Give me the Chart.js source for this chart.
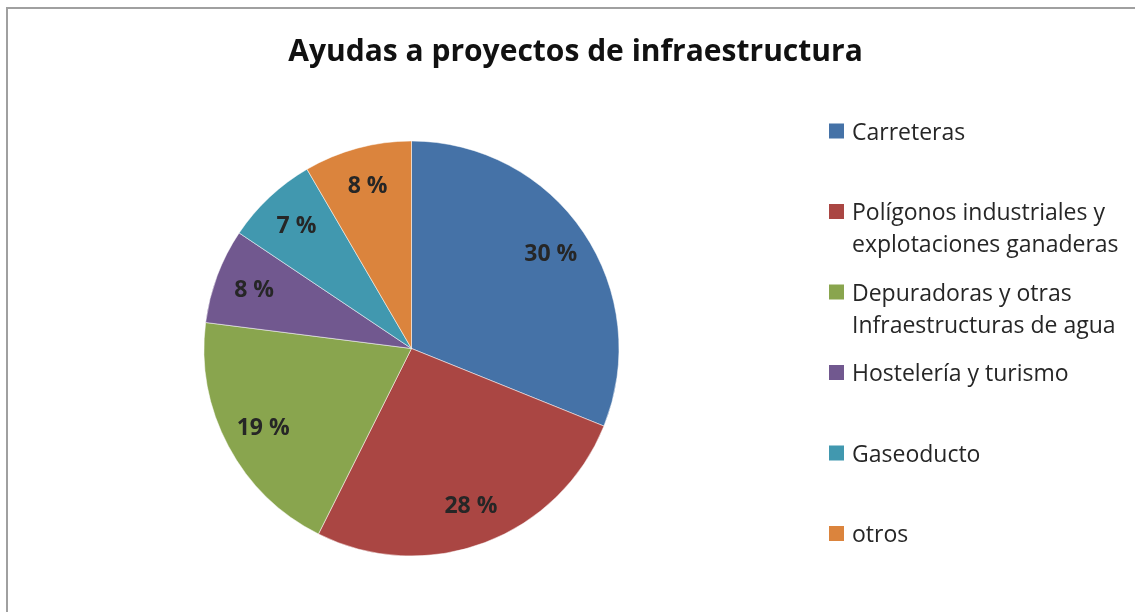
<!DOCTYPE html>
<html>
<head>
<meta charset="utf-8">
<script src="https://cdn.jsdelivr.net/npm/chart.js@4.4.1/dist/chart.umd.min.js"></script>
<style>
  html, body { margin: 0; padding: 0; background: #fff; }
  #wrap { position: relative; width: 1135px; height: 612px; }
</style>
</head>
<body>
<div id="wrap"><canvas id="pie"></canvas></div>
<script>
// ---- data ----
const categories = [
  ['Carreteras'],
  ['Polígonos industriales y', 'explotaciones ganaderas'],
  ['Depuradoras y otras', 'Infraestructuras de agua'],
  ['Hostelería y turismo'],
  ['Gaseoducto'],
  ['otros']
];
// slice sizes as drawn (share of the circle)
const shares = [31.1, 26.3, 19.6, 7.4, 7.2, 8.4];
// percentages printed on the slices
const pctLabels = ['30 %', '28 %', '19 %', '8 %', '7 %', '8 %'];
const colors = ['#4572A7', '#AA4643', '#89A54E', '#71588F', '#4198AF', '#DB843D'];
const chartTitle = 'Ayudas a proyectos de infraestructura';

const FONT = "'Open Sans', sans-serif";
const TEXT = '#262626';

// frame, title, slice labels and side legend
const decorations = {
  id: 'decorations',
  beforeDraw(chart) {
    const { ctx } = chart;
    ctx.save();
    ctx.strokeStyle = '#a0a0a0';
    ctx.lineWidth = 2;
    ctx.beginPath();
    ctx.moveTo(7, 612);
    ctx.lineTo(7, 8);
    ctx.lineTo(1135, 8);
    ctx.stroke();
    ctx.restore();
  },
  afterDraw(chart) {
    const { ctx } = chart;
    ctx.save();

    // title
    ctx.fillStyle = '#111';
    ctx.font = `bold 30px ${FONT}`;
    ctx.textAlign = 'center';
    ctx.textBaseline = 'alphabetic';
    ctx.fillText(chartTitle, 575.5, 61);

    // labels inside the slices
    const meta = chart.getDatasetMeta(0);
    ctx.font = `bold 23px ${FONT}`;
    ctx.fillStyle = TEXT;
    meta.data.forEach((arc, i) => {
      const p = arc.getProps(['x', 'y', 'startAngle', 'endAngle', 'outerRadius'], true);
      const mid = (p.startAngle + p.endAngle) / 2;
      const r = p.outerRadius * 0.81;
      ctx.fillText(pctLabels[i], p.x + Math.cos(mid) * r, p.y + Math.sin(mid) * r + 7);
    });

    // legend
    ctx.textAlign = 'left';
    ctx.font = `23px ${FONT}`;
    categories.forEach((lines, i) => {
      const top = 123.5 + i * 80.5;
      ctx.fillStyle = colors[i];
      ctx.fillRect(829, top, 15, 15);
      ctx.fillStyle = TEXT;
      lines.forEach((line, j) => {
        ctx.fillText(line, 852, top + 16 + j * 32);
      });
    });
    ctx.restore();
  }
};

new Chart(document.getElementById('pie'), {
  type: 'pie',
  data: {
    labels: categories.map((c) => c.join(' ')),
    datasets: [{
      data: shares,
      backgroundColor: colors,
      borderColor: 'rgba(255,255,255,0.5)',
      borderWidth: 1
    }]
  },
  options: {
    responsive: true,
    maintainAspectRatio: false,
    animation: false,
    radius: 207.5,
    layout: { padding: { left: 204, right: 516, top: 141, bottom: 56 } },
    plugins: {
      legend: { display: false },
      title: { display: false },
      tooltip: { enabled: false }
    }
  },
  plugins: [decorations]
});
</script>
</body>
</html>
